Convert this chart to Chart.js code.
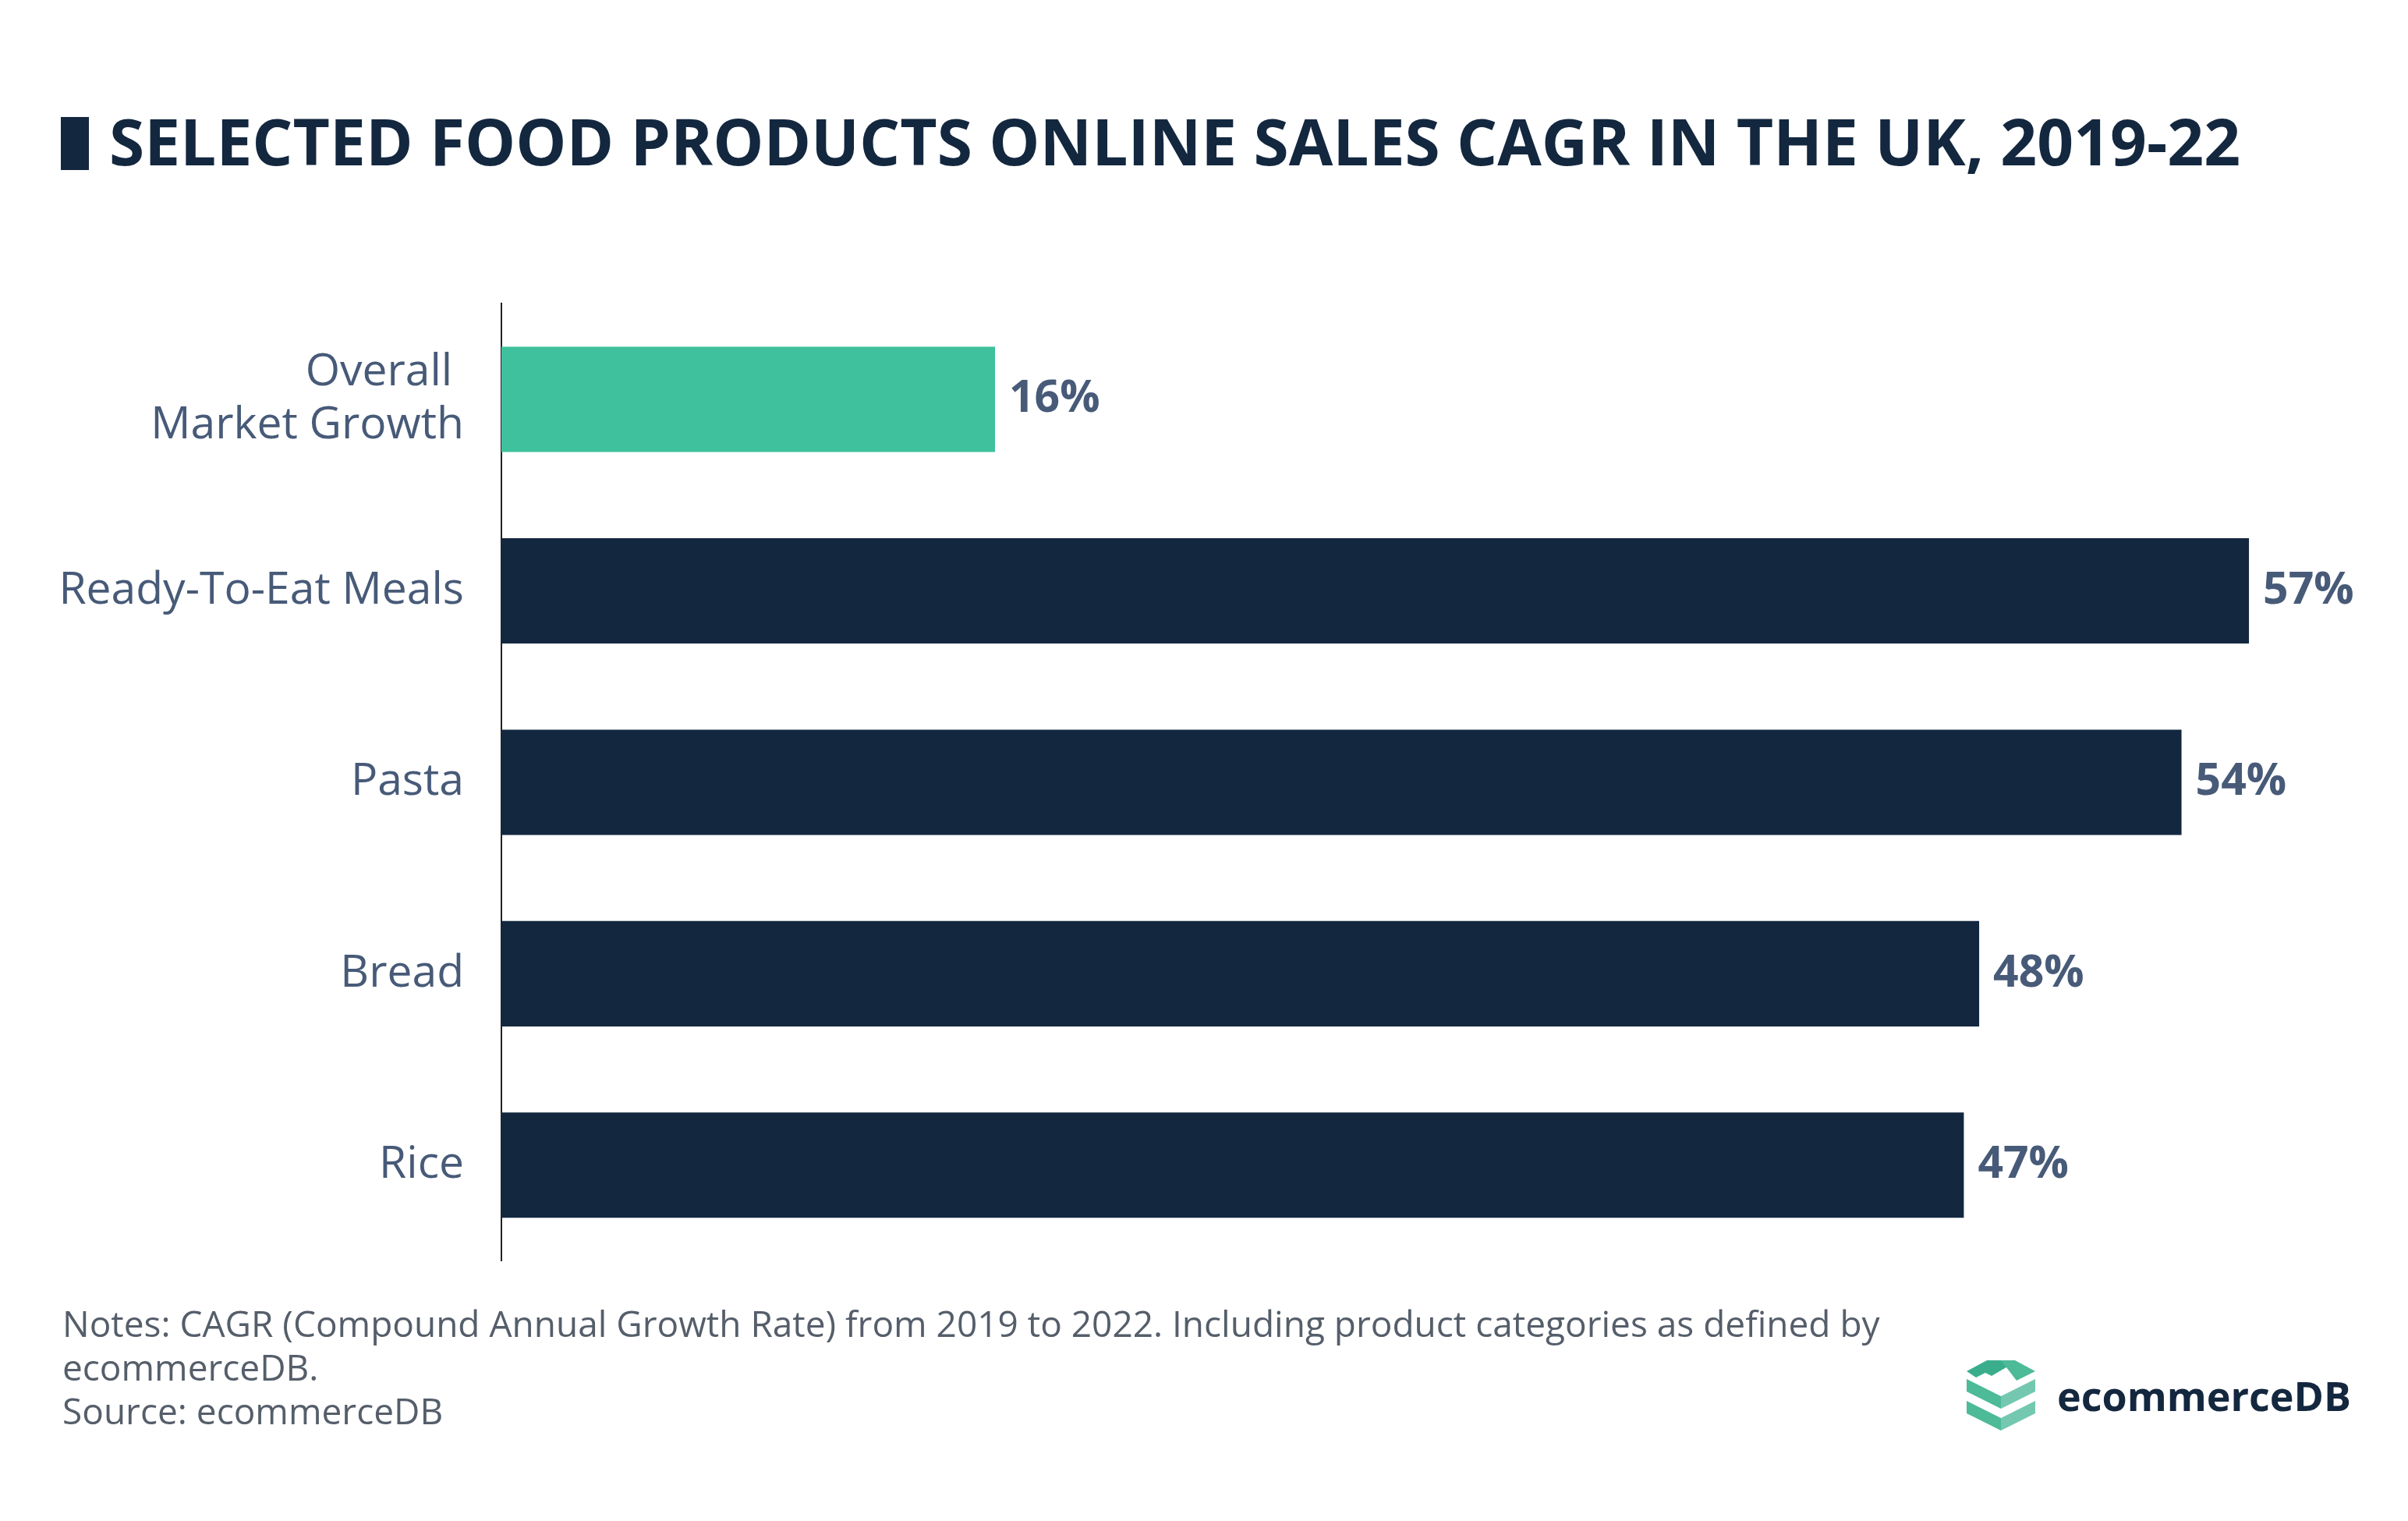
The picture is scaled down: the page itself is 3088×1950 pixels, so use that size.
<!DOCTYPE html>
<html>
<head>
<meta charset="utf-8">
<script src="https://cdn.jsdelivr.net/npm/chart.js@4"></script>
<style>
  body { margin: 0; width: 3088px; height: 1950px; background: #fff; font-family: "Open Sans", sans-serif; position: relative; overflow: hidden; }
  #title { position: absolute; left: 78px; top: 124px; font-size: 82px; font-weight: 700; color: #13273f; white-space: nowrap; }
  #title span { display: inline-block; width: 36px; height: 68px; background: #13273f; margin-right: 26px; vertical-align: -6px; }
  #wrap { position: absolute; left: 0; top: 315px; width: 3088px; height: 1410px; }
  #notes { position: absolute; left: 80px; top: 1668px; font-size: 46px; line-height: 56px; color: #555e6a; }
  #logo { position: absolute; left: 2522px; top: 1740px; display: flex; align-items: center; }
  #logo b { font-size: 52px; color: #13273f; margin-left: 28px; }
</style>
</head>
<body>
<div id="title"><span></span>SELECTED FOOD PRODUCTS ONLINE SALES CAGR IN THE UK, 2019-22</div>
<div id="wrap"><canvas id="c"></canvas></div>
<div id="notes">Notes: CAGR (Compound Annual Growth Rate) from 2019 to 2022. Including product categories as defined by<br>ecommerceDB.<br>Source: ecommerceDB</div>
<div id="logo">
  <svg width="88" height="96" viewBox="0 0 88 96">
    <polygon points="0,18 26,4 44,4 56,10 32,24 24,20 12,26" fill="#3aae8c"/>
    <polygon points="44,4 62,4 88,18 64,30" fill="#4dba98"/>
    <polygon points="0,28 44,50 44,66 0,44" fill="#4dba98"/>
    <polygon points="44,50 88,28 88,44 44,66" fill="#74c8b0"/>
    <polygon points="0,56 44,78 44,94 0,72" fill="#4dba98"/>
    <polygon points="44,78 88,56 88,72 44,94" fill="#74c8b0"/>
  </svg>
  <b>ecommerceDB</b>
</div>
<script>
// chart values (bar lengths, labels as printed)
const categories = [['Overall ', 'Market Growth'], 'Ready-To-Eat Meals', 'Pasta', 'Bread', 'Rice'];
const values = [16.1, 57, 54.8, 48.2, 47.7];
const valueLabelText = ['16%', '57%', '54%', '48%', '47%'];
const barColors = ['#3ec19c', '#13273f', '#13273f', '#13273f', '#13273f'];

// value labels at the end of each bar
const valueLabels = {
  id: 'valueLabels',
  afterDatasetsDraw(chart) {
    const ctx = chart.ctx;
    const meta = chart.getDatasetMeta(0);
    ctx.save();
    ctx.font = 'bold 57px "Open Sans"';
    ctx.fillStyle = '#475a78';
    ctx.textBaseline = 'middle';
    meta.data.forEach((bar, i) => {
      ctx.fillText(valueLabelText[i], bar.x + 18, bar.y);
    });
    ctx.restore();
  }
};

new Chart(document.getElementById('c'), {
  type: 'bar',
  data: {
    labels: categories,
    datasets: [{ data: values, backgroundColor: barColors, categoryPercentage: 1, barPercentage: 0.55 }]
  },
  options: {
    indexAxis: 'y',
    responsive: true,
    maintainAspectRatio: false,
    animation: false,
    layout: { padding: { top: 25, bottom: 63, right: 86 } },
    plugins: { legend: { display: false }, tooltip: { enabled: false } },
    scales: {
      x: { display: false, min: 0, max: 60 },
      y: {
        afterFit(scale) { scale.width = 643; },
        grid: { display: false },
        border: { display: true, color: '#222', width: 2 },
        ticks: { font: { family: 'Open Sans', size: 57 }, color: '#475a78', padding: 40 }
      }
    }
  },
  plugins: [valueLabels]
});
</script>
</body>
</html>
